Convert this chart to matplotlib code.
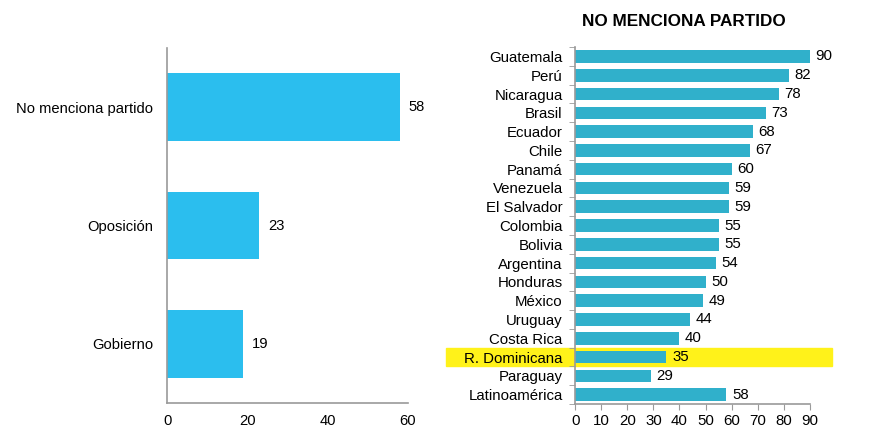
import matplotlib.pyplot as plt
import numpy as np

plt.rcParams['font.family'] = ['Liberation Sans', 'DejaVu Sans']

# left panel data
left_cats = ["No menciona partido", "Oposición", "Gobierno"]
left_vals = [58, 23, 19]

# right panel data
countries = ["Guatemala", "Perú", "Nicaragua", "Brasil", "Ecuador", "Chile",
             "Panamá", "Venezuela", "El Salvador", "Colombia", "Bolivia",
             "Argentina", "Honduras", "México", "Uruguay", "Costa Rica",
             "R. Dominicana", "Paraguay", "Latinoamérica"]
country_vals = [90, 82, 78, 73, 68, 67, 60, 59, 59, 55, 55, 54, 50, 49, 44, 40, 35, 29, 58]
highlight = "R. Dominicana"

fig = plt.figure(figsize=(8.89, 4.28), dpi=100)

# left chart
ax1 = fig.add_axes([0.188, 0.058, 0.271, 0.830])
y1 = np.arange(len(left_cats))
bars = ax1.barh(y1, left_vals, height=0.57, color='#2BBEEE', zorder=2)
ax1.bar_label(bars, padding=6, fontsize=10.6)
ax1.set_ylim(len(left_cats) - 0.5, -0.5)
ax1.set_xlim(0, 60)
ax1.set_xticks([0, 20, 40, 60])
ax1.set_yticks(y1)
ax1.set_yticklabels(left_cats, fontsize=10.6)
ax1.tick_params(axis='both', length=0, labelsize=10.6)
ax1.tick_params(axis='x', pad=8)
ax1.tick_params(axis='y', pad=10)
for s in ['top', 'right']:
    ax1.spines[s].set_visible(False)
for s in ['left', 'bottom']:
    ax1.spines[s].set_color('#9a9a9a')
    ax1.spines[s].set_linewidth(1.2)

# right chart
ax2 = fig.add_axes([0.647, 0.056, 0.264, 0.834])
y2 = np.arange(len(countries))
bars2 = ax2.barh(y2, country_vals, height=0.67, color='#30B0CB', zorder=2)
ax2.bar_label(bars2, padding=4, fontsize=10.8)
hi = countries.index(highlight)
ax2.axhspan(hi - 0.5, hi + 0.5, xmin=-0.549, xmax=1.094, color='#FFF21A',
            clip_on=False, zorder=0.5)
ax2.set_ylim(len(countries) - 0.5, -0.5)
ax2.set_xlim(0, 90)
ax2.set_xticks(np.arange(0, 91, 10))
ax2.set_yticks(y2)
ax2.set_yticklabels(countries, fontsize=10.8)
ax2.set_yticks(np.arange(-0.5, len(countries), 1), minor=True)
ax2.tick_params(axis='y', which='major', length=0, pad=9)
ax2.tick_params(axis='y', which='minor', length=4, color='#9a9a9a')
ax2.tick_params(axis='x', length=4, color='#9a9a9a', labelsize=10.8, pad=3)
for s in ['top', 'right']:
    ax2.spines[s].set_visible(False)
for s in ['left', 'bottom']:
    ax2.spines[s].set_color('#9a9a9a')
    ax2.spines[s].set_linewidth(1.2)
ax2.set_title("NO MENCIONA PARTIDO", fontsize=12.3, fontweight='bold', pad=15,
              x=0.464)

fig.savefig('out.png', dpi=100)
